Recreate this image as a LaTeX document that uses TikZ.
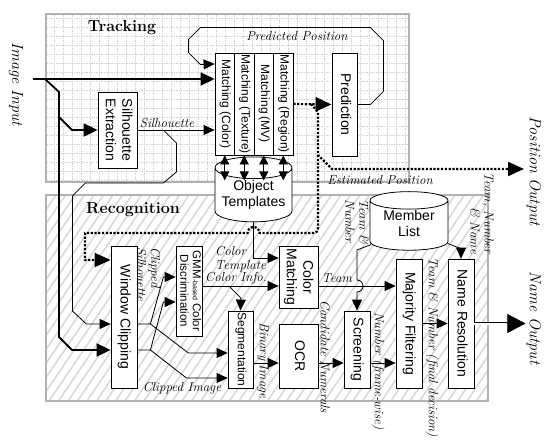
\documentclass[tikz,border=0pt]{standalone}
\usepackage{fontspec}
\setsansfont{Liberation Sans}
\usepackage{graphicx}
\usetikzlibrary{arrows.meta,shapes.geometric,calc}

% rotated (top-to-bottom) text inside a block
\newcommand{\vtxt}[1]{\rotatebox{-90}{\begin{tabular}{@{}c@{}}#1\end{tabular}}}
% text of a cylinder, set a little lower
\newcommand{\dbtxt}[1]{\raisebox{-5pt}{\begin{tabular}{@{}c@{}}#1\end{tabular}}}

\tikzset{
  box/.style={draw, fill=white, inner sep=0pt, line width=0.8pt, font=\sffamily\fontsize{14}{16.5}\selectfont},
  smallbox/.style={box, font=\sffamily\fontsize{12}{13}\selectfont},
  db/.style={cylinder, shape border rotate=90, draw, fill=white, line width=0.8pt, aspect=0.34,
    minimum width=77pt, minimum height=50pt, inner sep=0pt,
    font=\sffamily\fontsize{14}{16}\selectfont},
  lab/.style={inner sep=0pt, font=\itshape\fontsize{13}{14}\selectfont},
  vlab/.style={lab, rotate=-90},
  title/.style={inner sep=0pt, font=\bfseries\fontsize{16}{18}\selectfont},
  outlab/.style={inner sep=0pt, rotate=-90, font=\itshape\fontsize{16}{18}\selectfont},
  arr/.style={line width=0.8pt, -{Triangle[length=11pt,width=10pt]}},
  biarr/.style={line width=0.8pt, {Triangle[length=9pt,width=9pt]}-{Triangle[length=9pt,width=9pt]}},
  thickarr/.style={line width=1.8pt, -{Triangle[length=14pt,width=13pt]}},
  dots/.style={line width=2.2pt, dash pattern=on 2.2pt off 1.6pt},
  dotarr/.style={dots, -{Triangle[length=16pt,width=14pt]}},
}

\begin{document}
\begin{tikzpicture}[x=1pt, y=-1pt]
  \useasboundingbox (0,0) rectangle (544,447);

  % Tracking area (grid)
  \fill[white] (46,14) rectangle (409,182);
  \draw[gray!35, line width=0.4pt, dash pattern=on 1.5pt off 1pt] (46,14) grid[step=9pt] (409,182);
  \draw[gray!60, line width=1.2pt] (46,14) rectangle (409,182);

  % Recognition area (hatched)
  \begin{scope}
    \clip (46,195) rectangle (488,401);
    \foreach \h in {-160,-150.5,...,490}
      \draw[gray!30, line width=1.6pt] (\h,401) -- ++(140,-206);
  \end{scope}
  \draw[gray!60, line width=1.2pt] (46,195) rectangle (488,401);

  \node[title] (trk) at (122,28) {Tracking};
  \node[title] (rec) at (133,210) {Recognition};

  % tracking blocks
  \node[smallbox, minimum width=19.5pt, minimum height=102pt] (mcol) at (224.75,104) {\vtxt{Matching (Color)}};
  \node[smallbox, minimum width=19.5pt, minimum height=102pt] (mtex) at (244.25,104) {\vtxt{Matching (Texture)}};
  \node[smallbox, minimum width=19.5pt, minimum height=102pt] (mmv) at (263.75,104) {\vtxt{Matching (MV)}};
  \node[smallbox, minimum width=19.5pt, minimum height=102pt] (mreg) at (283.25,104) {\vtxt{Matching (Region)}};
  \node[box, minimum width=25pt, minimum height=103pt] (pred) at (344.5,104.5) {\vtxt{Prediction}};
  \node[box, minimum width=39pt, minimum height=76pt] (silx) at (117.5,130) {\vtxt{Silhouette\\Extraction}};
  \node[db] (otpl) at (253.5,195) {\dbtxt{Object\\Templates}};

  % recognition blocks
  \node[box, minimum width=26pt, minimum height=142pt] (wclip) at (124,317) {\vtxt{Window Clipping}};
  \node[smallbox, font=\sffamily\fontsize{11.5}{12.5}\selectfont, minimum width=26pt, minimum height=90pt] (gmm) at (189,291)
    {\vtxt{GMM{\fontsize{7}{8}\selectfont-based} Color\\Discrimination}};
  \node[smallbox, minimum width=25pt, minimum height=77pt] (seg) at (240.5,349.5) {\vtxt{Segmentation}};
  \node[box, minimum width=39pt, minimum height=62pt] (cmat) at (298.5,277) {\vtxt{Color\\Matching}};
  \node[box, minimum width=39pt, minimum height=64pt] (ocr) at (298.5,356) {\vtxt{OCR}};
  \node[box, minimum width=26pt, minimum height=77pt] (scr) at (357,349.5) {\vtxt{Screening}};
  \node[db, minimum width=78pt, minimum height=49pt] (mlist) at (409,225.5) {\dbtxt{Member\\List}};
  \node[box, minimum width=26pt, minimum height=129pt] (majf) at (409,323.5) {\vtxt{Majority Filtering}};
  \node[box, minimum width=26pt, minimum height=129pt] (nres) at (461,323.5) {\vtxt{Name Resolution}};

  % inputs and outputs
  \node[outlab] (l-img) at (16,84) {Image Input};
  \node[outlab] (l-pos) at (534,171) {Position Output};
  \node[outlab] (l-name) at (534,318) {Name Output};
  \coordinate (imgin) at (33,79);
  \coordinate (posout) at (524,169);
  \coordinate (split) at (45,79);
  \coordinate (split2) at (59,117);

  % image input
  \draw[thickarr] (imgin) -- (imgin -| mcol.west);
  \draw[thickarr] (split) -- ++(14,13) -- ++(0,245) -- ++(13,13) -- ($(wclip.west)+(0,33)$);
  \draw[thickarr] (split2) -- (72,130) -- (silx.west);

  % silhouette
  \draw[arr] (silx.east) -- (silx.east -| mcol.west);
  \node[lab] (l-sil) at (167,123) {Silhouette};
  \draw[arr] ($(silx.east)+(26,0)$) -- ++(13,13) -- ++(0,29) -- ++(-13,11) -- ++(-78,0)
    -- ++(-13,13) -- ++(0,115) -- ++(14,13) -- ($(wclip.west)+(0,7)$);

  % predicted position loop
  \draw[arr] (pred.east) -- ++(13,0) -- ++(13,-13) -- ++(0,-51) -- ++(-13,-13) -- ++(-170,0)
    -- ++(-12,12) -- ++(0,13) -- ++(12,12) -- ($(mcol.west)+(0,-40)$);
  \node[lab] (l-pred) at (297,36) {Predicted Position};

  % estimated position
  \draw[dotarr] (mreg.east) -- (pred.west);
  \coordinate (est) at (311,104);
  \coordinate (estdown) at (318,155);
  \draw[dotarr] (est) -- ++(7,8) -- (estdown) -- ++(14,14) -- (posout);
  \node[lab] (l-est) at (380,180) {Estimated Position};
  \draw[dotarr] (estdown) -- (318,223) .. controls (318,233) .. (308,233) -- (259.5,233)
    arc[start angle=0, end angle=180, radius=6pt] -- (85,233) -- (85,260) -- ($(wclip.west)+(0,-57)$);

  % templates
  \foreach \m in {mcol,mtex,mmv,mreg}
    \draw[biarr] (\m.south) -- ++(0,25);
  \draw[arr] (otpl.south) |- ($(cmat.west)+(0,-19)$);
  \node[lab, align=left, anchor=west] (l-ctpl) at (215,259) {Color\\Template};

  % color discrimination
  \coordinate (ci) at ($(gmm.east)+(0,-5)$);
  \draw[arr] (ci) -- (ci -| cmat.west);
  \draw[arr] ($(ci)+(26.5,0)$) -- ++(12,12) -- (seg.north);
  \node[lab] (l-cinfo) at (236,278) {Color Info.};

  % window clipping outputs
  \coordinate (cs) at ($(wclip.east)+(13,7)$);
  \coordinate (cimg) at ($(wclip.east)+(13,33)$);
  \draw[arr] (cs -| wclip.east) -- (cs) -- ++(13,-47) -- ($(gmm.west)+(0,-14)$);
  \draw[arr] (cs) -- ++(38,29) -- ($(seg.west)+(0,3.5)$);
  \draw[arr] (cimg -| wclip.east) -- (cimg) -- ++(13,-48) -- ($(gmm.west)+(0,11)$);
  \draw[arr] (cimg) -- ++(36,28) -- ($(seg.west)+(0,28.5)$);
  \node[vlab, align=left, anchor=west] (l-csil) at (148.5,247) {Clipped\\Silhouette};
  \node[lab] (l-cimg) at (182,388) {Clipped Image};

  % number recognition chain
  \coordinate (bin) at ($(seg.east)+(0,13.5)$);
  \draw[arr] (bin) -- (bin -| ocr.west);
  \draw[arr] (bin -| ocr.east) -- (bin -| scr.west);
  \draw[arr] (bin -| scr.east) -- (bin -| majf.west);
  \node[vlab, anchor=west] (l-bin) at (263,322) {Binary Image};
  \node[vlab, anchor=west] (l-cand) at (325,300) {Candidate Numerals};
  \node[vlab, anchor=west] (l-num) at (378,312) {Number (frame-wise)};

  % team
  \draw[arr] ($(cmat.east)+(0,9)$) -- ($(majf.west)+(0,-37.5)$);
  \node[lab] (l-team) at (337,278) {Team};

  % member list
  \draw[arr] ($(mlist.south)+(-38,-6)$) -- (357,250) -- (357,280)
    arc[start angle=90, end angle=-90, radius=6pt] -- (scr.north);
  \node[vlab, align=center] (l-tn) at (357,221.5) {Team \&\\Number};
  \draw[arr] ($(mlist.south)+(39,-7)$) -- ($(nres.north)+(0,-10)$) -- (nres.north);
  \node[vlab, align=right] (l-tnn) at (482,213) {Team, Number\\\& Name};

  % final decision and name output
  \draw[arr] (majf.east) -- (nres.west);
  \node[vlab, anchor=west] (l-fin) at (432,257) {Team \& Number (final decision)};
  \coordinate (ntip) at ($(nres.east)+(33,0)$);
  \coordinate (nameout) at ($(nres.east)+(51,0)$);
  \draw[line width=0.7pt, double, double distance=2pt] (nres.east) -- (ntip);
  \draw[-{Triangle[length=18pt,width=19pt]}] (ntip) -- (nameout);
\end{tikzpicture}
\end{document}
